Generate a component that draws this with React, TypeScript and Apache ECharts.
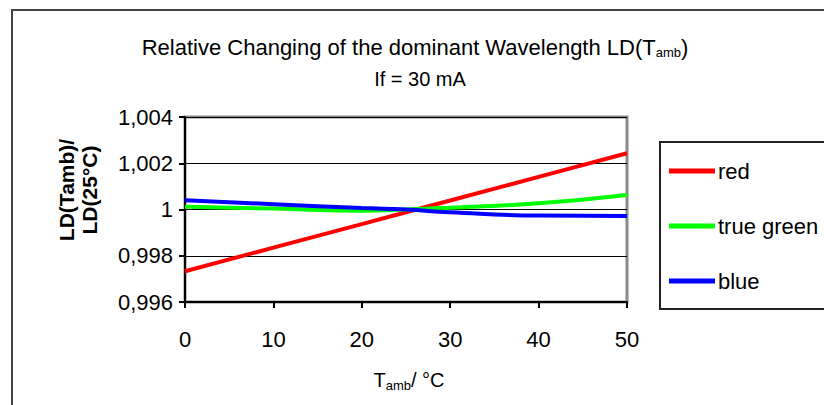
import React, { useEffect, useRef } from "react";
import * as echarts from "echarts";

const temps = [0, 10, 20, 25, 30, 40, 50];
const redValues = [0.99733, 0.99835, 0.99937, 0.99988, 1.00039, 1.00141, 1.00243];
const greenValues = [1.00012, 1.00004, 0.99995, 1.0, 1.00008, 1.00027, 1.00063];
const blueValues = [1.0004, 1.00023, 1.00006, 1.0, 0.99988, 0.99974, 0.99972];
const seriesNames = ["red", "true green", "blue"];
const seriesColors = ["#ff0000", "#00ff00", "#0000ff"];
const yTicks = { min: 0.996, max: 1.004, interval: 0.002 };
const xTicks = { min: 0, max: 50, interval: 10 };

const FONT = "'Liberation Sans', Arial, sans-serif";

export default function App() {
  const ref = useRef<HTMLDivElement>(null);
  useEffect(() => {
    document.body.style.margin = "0";
    if (!ref.current) return;
    const chart = echarts.init(ref.current, null, { renderer: "svg" });
    const values = [redValues, greenValues, blueValues];
    chart.setOption({
      animation: false,
      backgroundColor: "#ffffff",
      textStyle: { fontFamily: FONT },
      grid: {
        left: 185,
        top: 117,
        right: 197,
        bottom: 103,
        show: true,
        borderColor: "#8a8a8a",
        borderWidth: 3,
        backgroundColor: "#ffffff",
      },
      legend: {
        orient: "vertical",
        left: 664,
        top: 155,
        icon: "rect",
        itemWidth: 46,
        itemHeight: 5,
        itemGap: 33,
        data: seriesNames,
        textStyle: { fontSize: 22, color: "#000", fontFamily: FONT, padding: [0, 0, 0, -2] },
      },
      xAxis: {
        type: "value",
        min: xTicks.min,
        max: xTicks.max,
        interval: xTicks.interval,
        axisLine: { show: true, lineStyle: { color: "#000", width: 2 } },
        axisTick: { show: true, length: 6, lineStyle: { color: "#000", width: 2 } },
        axisLabel: { fontSize: 22, color: "#000", margin: 26, fontFamily: FONT },
        splitLine: { show: false },
      },
      yAxis: {
        type: "value",
        min: yTicks.min,
        max: yTicks.max,
        interval: yTicks.interval,
        axisLine: { show: true, lineStyle: { color: "#000", width: 2 } },
        axisTick: { show: true, length: 6, lineStyle: { color: "#000", width: 2 } },
        axisLabel: {
          fontSize: 22,
          color: "#000",
          margin: 12,
          fontFamily: FONT,
          formatter: (v: number) => String(parseFloat(v.toFixed(3))).replace(".", ","),
        },
        splitLine: { show: true, lineStyle: { color: "#000", width: 1 } },
      },
      series: seriesNames.map((name, i) => ({
        name,
        type: "line",
        smooth: i === 0 ? false : true,
        showSymbol: false,
        symbol: "none",
        color: seriesColors[i],
        lineStyle: { color: seriesColors[i], width: 4 },
        data: temps.map((t, j) => [t, values[i][j]]),
        z: 3 + i,
      })),
      graphic: [
        {
          type: "rect",
          shape: { x: 12, y: 10, width: 900, height: 500 },
          style: { fill: "none", stroke: "#444", lineWidth: 2 },
          z: 0,
        },
        {
          type: "rect",
          shape: { x: 660, y: 142, width: 200, height: 167 },
          style: { fill: "none", stroke: "#222", lineWidth: 2 },
          z: 1,
        },
        {
          type: "text",
          x: 415,
          y: 47,
          style: {
            text: "{n|Relative Changing of the dominant Wavelength LD(T}{s|amb}{n|)}",
            align: "center",
            verticalAlign: "middle",
            fill: "#000",
            rich: {
              n: { fontSize: 22, fontFamily: FONT, fill: "#000" },
              s: { fontSize: 13, fontFamily: FONT, fill: "#000", padding: [10, 0, 0, 0] },
            },
          },
        },
        {
          type: "text",
          x: 420,
          y: 79,
          style: {
            text: "If = 30 mA",
            align: "center",
            verticalAlign: "middle",
            fill: "#000",
            font: `20px ${FONT}`,
          },
        },
        {
          type: "text",
          x: 409,
          y: 380,
          style: {
            text: "{n|T}{s|amb}{n|/ °C}",
            align: "center",
            verticalAlign: "middle",
            fill: "#000",
            rich: {
              n: { fontSize: 20, fontFamily: FONT, fill: "#000" },
              s: { fontSize: 13, fontFamily: FONT, fill: "#000", padding: [10, 0, 0, 0] },
            },
          },
        },
        {
          type: "text",
          x: 78,
          y: 190,
          rotation: Math.PI / 2,
          style: {
            text: "LD(Tamb)/\nLD(25°C)",
            align: "center",
            verticalAlign: "middle",
            fill: "#000",
            font: `bold 21px ${FONT}`,
            lineHeight: 23,
          },
        },
      ],
    });
    return () => chart.dispose();
  }, []);
  return <div ref={ref} style={{ width: 824, height: 405 }} />;
}
